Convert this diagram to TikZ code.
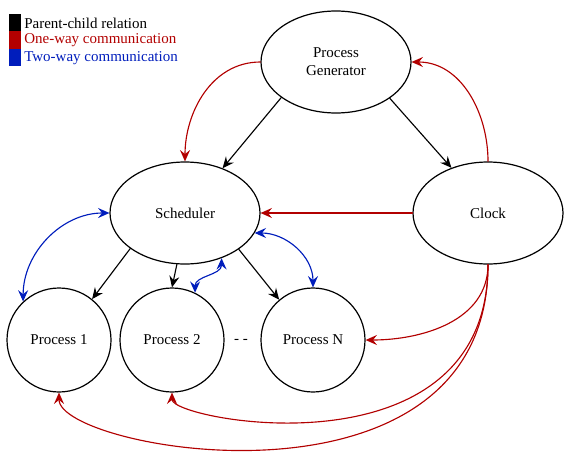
\documentclass[tikz,border=0pt]{standalone}
\usepackage{fontspec}
\setmainfont{Liberation Serif}
\usetikzlibrary{shapes.geometric,arrows.meta}
\definecolor{onewayred}{HTML}{B20000}
\definecolor{twowayblue}{HTML}{001DBC}
\begin{document}
\begin{tikzpicture}[x=0.75pt,y=-0.75pt,line join=round,line cap=round,
	font=\fontsize{11.25}{13.5}\selectfont,
	>={Stealth[length=8.5pt,width=7.5pt,inset=3pt]},
	proc/.style={draw,line width=0.9pt,ellipse,minimum width=112.5pt,minimum height=76.5pt,inner sep=0pt,align=center},
	task/.style={draw,line width=0.9pt,circle,minimum size=78pt,inner sep=0pt},
	child/.style={->,line width=0.85pt,black},
	oneway/.style={->,line width=0.85pt,onewayred},
	twoway/.style={<->,line width=0.85pt,twowayblue}]
	\useasboundingbox (0,0) rectangle (570,453);
	% legend
	\fill[black] (9,14) rectangle (21,31.5);
	\fill[onewayred] (9,31.5) rectangle (21,49);
	\fill[twowayblue] (9,49) rectangle (21,66.5);
	\node[anchor=west,inner sep=0pt] (lgchild) at (24,23) {Parent-child relation};
	\node[anchor=west,inner sep=0pt,text=onewayred] (lgoneway) at (24,40.5) {One-way communication};
	\node[anchor=west,inner sep=0pt,text=twowayblue] (lgtwoway) at (24,58) {Two-way communication};
	% nodes
	\node[proc] (gen) at (336,62) {Process\\Generator};
	\node[proc] (sched) at (185,213) {Scheduler};
	\node[proc] (clock) at (488,213) {Clock};
	\node[task] (p1) at (59,340) {Process 1};
	\node[task] (p2) at (172,340) {Process 2};
	\node[task] (pn) at (313,340) {Process N};
	\node (dots) at (241,341) {- -};
	% parent-child
	\draw[child] (gen.213.7) -- (sched.50.4);
	\draw[child] (gen.326.3) -- (clock.129.6);
	\draw[child] (sched.213.2) -- (p1.51.8);
	\draw[child] (sched.261) -- (p2.north);
	\draw[child] (sched.326) -- (pn.130.5);
	% one-way
	\draw[oneway] (gen.west) to[out=180,in=90] (sched.north);
	\draw[oneway] (clock.north) to[out=90,in=0] (gen.east);
	\draw[oneway] (clock.west) -- (sched.east);
	\draw[oneway] (clock.south) to[out=270,in=0] (pn.east);
	\draw[oneway] (clock.south) .. controls +(0,215) and +(0,28) .. (p2.south);
	\draw[oneway] (clock.south) .. controls +(0,262) and +(0,58) .. (p1.south);
	% two-way
	\draw[twoway] (sched.west) to[out=180,in=90] (p1.133.5);
	\draw[twoway] (sched.309.4) to[out=270,in=90] (p2.64.4);
	\draw[twoway] (sched.344.5) to[out=0,in=90] (pn.north);
\end{tikzpicture}
\end{document}
